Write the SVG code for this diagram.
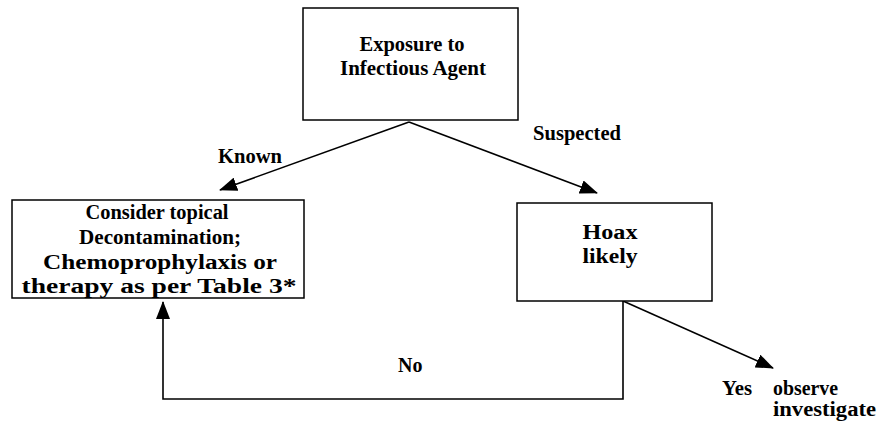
<svg xmlns="http://www.w3.org/2000/svg" width="886" height="423" viewBox="0 0 886 423">
<defs>
<style>
.box{fill:#fff;stroke:#000;stroke-width:1.5}
.t{font-family:"Liberation Serif","Times New Roman",serif;font-weight:bold;font-size:20px;fill:#000}
.c{text-anchor:middle}
.ln{fill:none;stroke:#000;stroke-width:1.6}
</style>
<marker id="ah" markerWidth="18" markerHeight="14" refX="17" refY="7" orient="auto" markerUnits="userSpaceOnUse">
<path d="M0,0 L18,7 L0,14 Z" fill="#000"/>
</marker>
</defs>
<rect width="886" height="423" fill="#fff"/>
<g id="connectors">
<line class="ln" x1="409" y1="122" x2="220" y2="190" marker-end="url(#ah)"/>
<line class="ln" x1="409" y1="122" x2="597" y2="193" marker-end="url(#ah)"/>
<polyline class="ln" points="623,301 623,399 163,399 163,302" marker-end="url(#ah)"/>
<line class="ln" x1="623" y1="301" x2="773" y2="368" marker-end="url(#ah)"/>
</g>
<g id="exposure">
<rect class="box" x="303" y="8" width="215" height="112"/>
<text class="t c" x="412" y="51" textLength="105" lengthAdjust="spacingAndGlyphs">Exposure to</text>
<text class="t c" x="413" y="75" textLength="146" lengthAdjust="spacingAndGlyphs">Infectious Agent</text>
</g>
<g id="consider">
<rect class="box" x="12" y="200" width="292" height="98"/>
<text class="t c" x="157" y="219" textLength="143" lengthAdjust="spacingAndGlyphs">Consider topical</text>
<text class="t c" x="160" y="244" textLength="162" lengthAdjust="spacingAndGlyphs">Decontamination;</text>
<text class="t c" x="160" y="269" textLength="234" lengthAdjust="spacingAndGlyphs">Chemoprophylaxis or</text>
<text class="t c" x="159" y="293" textLength="275" lengthAdjust="spacingAndGlyphs">therapy as per Table 3*</text>
</g>
<g id="hoax">
<rect class="box" x="517" y="203" width="195" height="98"/>
<text class="t c" x="610" y="239" textLength="55" lengthAdjust="spacingAndGlyphs">Hoax</text>
<text class="t c" x="610" y="263" textLength="55" lengthAdjust="spacingAndGlyphs">likely</text>
</g>
<g id="labels">
<text class="t" x="218" y="163" textLength="64" lengthAdjust="spacingAndGlyphs">Known</text>
<text class="t" x="533" y="140" textLength="88" lengthAdjust="spacingAndGlyphs">Suspected</text>
<text class="t" x="398" y="372">No</text>
<text class="t" x="722" y="395" textLength="30" lengthAdjust="spacingAndGlyphs">Yes</text>
<text class="t" x="773" y="395" textLength="65" lengthAdjust="spacingAndGlyphs">observe</text>
<text class="t" x="773" y="416" textLength="103" lengthAdjust="spacingAndGlyphs">investigate</text>
</g>
</svg>
